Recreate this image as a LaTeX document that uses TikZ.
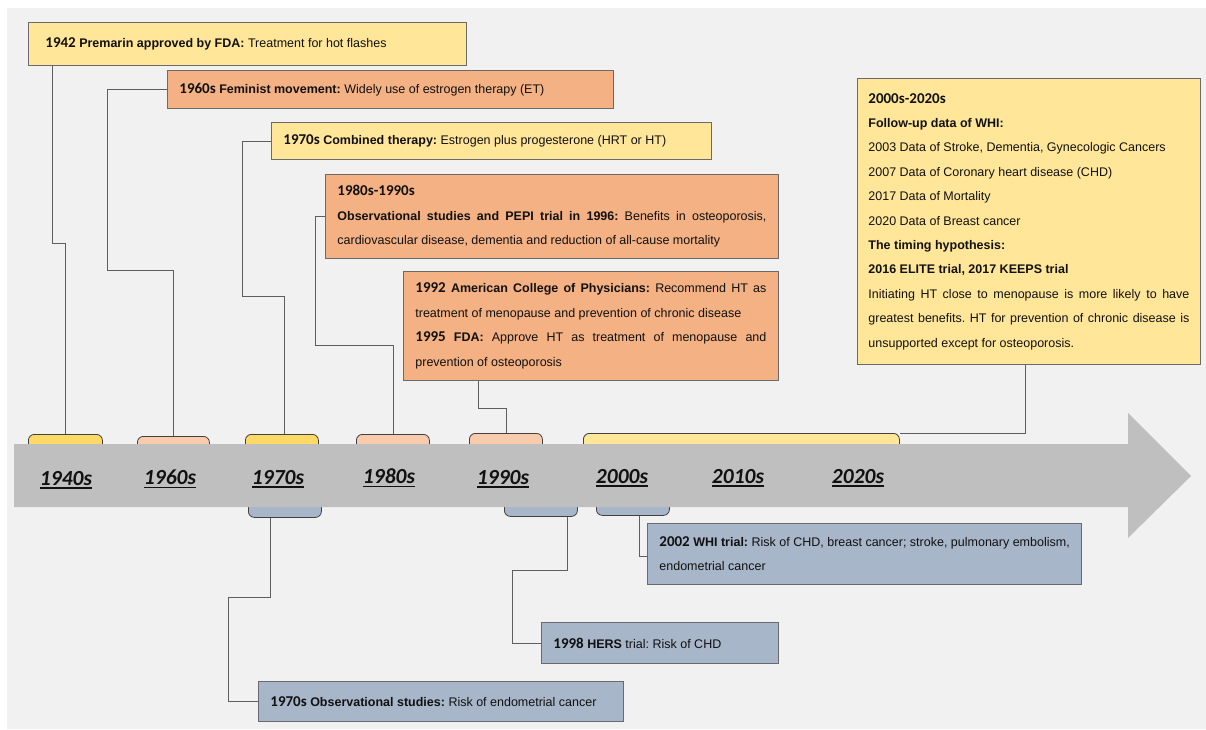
\documentclass[tikz,border=0pt]{standalone}
\usepackage{fontspec}
\setmainfont{Liberation Sans}
\newfontfamily\calib{Carlito}
\setlength\parindent{0pt}
\frenchspacing
\definecolor{bgcol}{HTML}{F1F1F1}
\definecolor{arrowgray}{HTML}{BFBFBF}
\definecolor{ylight}{HTML}{FFE699}
\definecolor{ydark}{HTML}{FFD966}
\definecolor{orbox}{HTML}{F4B183}
\definecolor{ortab}{HTML}{F8CBAD}
\definecolor{bluebox}{HTML}{A8B6C9}
\definecolor{boxline}{HTML}{6A6A6A}
\definecolor{tabline}{HTML}{404040}
\definecolor{connline}{HTML}{5E5E5E}
\definecolor{txt}{HTML}{111111}
\newcommand\yr[1]{{\calib\bfseries\fontsize{15}{24.4}\selectfont #1}}
\newcommand\decul[1]{\setbox0\hbox{#1}\rlap{\vrule height -2.2pt depth 3.9pt width \wd0}\box0}
\tikzset{
  box/.style={draw=boxline, line width=0.8pt, rectangle, inner xsep=12pt, inner ysep=0pt,
    align=justify, font=\fontsize{12.5}{24.4}\selectfont, text=txt, anchor=north west,
    execute at begin node={\lefthyphenmin=62 \righthyphenmin=62 \hyphenpenalty=10000 \frenchspacing}},
  tabbox/.style={draw=tabline, line width=0.8pt, rounded corners=6pt, inner sep=0pt, anchor=north west},
  conn/.style={draw=connline, line width=0.8pt},
  dec/.style={font=\calib\bfseries\itshape\fontsize{21.5}{21.5}\selectfont, text=txt, inner sep=0pt}
}
\begin{document}
\begin{tikzpicture}[x=1pt,y=-1pt]
\useasboundingbox (0,0) rectangle (1206,729);
\fill[white] (0,0) rectangle (1206,729);
\fill[bgcol] (7,8) rectangle (1206,729);

% tabs above
\node[tabbox, fill=ydark, minimum width=74pt, minimum height=30pt] (t1940) at (28,434) {};
\node[tabbox, fill=ortab, minimum width=72pt, minimum height=28pt] (t1960) at (137,436) {};
\node[tabbox, fill=ydark, minimum width=73pt, minimum height=30pt] (t1970) at (245,434) {};
\node[tabbox, fill=ortab, minimum width=73pt, minimum height=30pt] (t1980) at (356,434) {};
\node[tabbox, fill=ortab, minimum width=73pt, minimum height=30pt] (t1990) at (469,433) {};
\node[tabbox, fill=ylight, minimum width=316pt, minimum height=30pt] (t2000) at (583,433) {};
% tabs below
\node[tabbox, fill=bluebox, minimum width=73pt, minimum height=30pt] (tb1970) at (248,487) {};
\node[tabbox, fill=bluebox, minimum width=73pt, minimum height=29pt] (tb1990) at (504,487) {};
\node[tabbox, fill=bluebox, minimum width=73pt, minimum height=28pt] (tb2000) at (596,487) {};

% arrow
\fill[arrowgray] (14,444) -- (1128,444) -- (1128,413) -- (1191,476) -- (1128,538) -- (1128,507) -- (14,507) -- cycle;

% decade labels
\node[dec] (d1940) at (66,480) {\decul{1940s}};
\node[dec] (d1960) at (170,479) {\decul{1960s}};
\node[dec] (d1970) at (278,479) {\decul{1970s}};
\node[dec] (d1980) at (389,478) {\decul{1980s}};
\node[dec] (d1990) at (503,479) {\decul{1990s}};
\node[dec] (d2000) at (622,478) {\decul{2000s}};
\node[dec] (d2010) at (738,478) {\decul{2010s}};
\node[dec] (d2020) at (858,478) {\decul{2020s}};

% boxes above
\node[box, fill=ylight, inner xsep=17pt, text width=404pt, minimum width=438pt, minimum height=43pt] (b1942) at (28,22)
  {\mbox{\yr{1942} \textbf{Premarin approved by FDA:} Treatment for hot flashes}};
\node[box, fill=orbox, text width=422pt, minimum width=446pt, minimum height=38pt] (b1960) at (167,70)
  {\mbox{\yr{1960s} \textbf{Feminist movement:} Widely use of estrogen therapy (ET)}};
\node[box, fill=ylight, text width=416pt, minimum width=440pt, minimum height=37pt] (b1970) at (271,122)
  {\mbox{\yr{1970s} \textbf{Combined therapy:} Estrogen plus progesterone (HRT or HT)}};
\node[box, fill=orbox, text width=429pt, minimum width=453pt, minimum height=84pt] (b1980) at (325,174)
  {\yr{1980s-1990s}\\ \textbf{Observational studies and PEPI trial in 1996:} Benefits in osteoporosis, cardiovascular disease, dementia and reduction of all-cause mortality};
\node[box, fill=orbox, text width=351pt, minimum width=375pt, minimum height=109pt] (b1992) at (403,271)
  {\yr{1992} \textbf{American College of Physicians:} Recommend HT as treatment of menopause and prevention of chronic disease\\ \yr{1995} \textbf{FDA:} Approve HT as treatment of menopause and prevention of osteoporosis};
\node[box, fill=ylight, inner xsep=11pt, text width=321pt, minimum width=343pt, minimum height=286pt] (b2000) at (857,78)
  {\yr{2000s-2020s}\\
   \textbf{Follow-up data of WHI:}\\
   2003 Data of Stroke, Dementia, Gynecologic Cancers\\
   2007 Data of Coronary heart disease (CHD)\\
   2017 Data of Mortality\\
   2020 Data of Breast cancer\\
   \textbf{The timing hypothesis:}\\
   \textbf{2016 ELITE trial, 2017 KEEPS trial}\\
   Initiating HT close to menopause is more likely to have greatest benefits. HT for prevention of chronic disease is unsupported except for osteoporosis.};

% boxes below
\node[box, fill=bluebox, text width=410pt, minimum width=434pt, minimum height=61pt] (bwhi) at (647,523)
  {\mbox{\yr{2002} \textbf{WHI trial:} Risk of CHD, breast cancer; stroke, pulmonary embolism,}\\ endometrial cancer};
\node[box, fill=bluebox, text width=213pt, minimum width=237pt, minimum height=41pt] (bhers) at (541,622)
  {\mbox{\yr{1998} \textbf{HERS} trial: Risk of CHD}};
\node[box, fill=bluebox, text width=341pt, minimum width=365pt, minimum height=40pt] (bobs) at (258,681)
  {\mbox{\yr{1970s} \textbf{Observational studies:} Risk of endometrial cancer}};

% connectors
\draw[conn] ([xshift=24pt]b1942.south west) |- (t1940.north |- 0,243) -- (t1940.north);
\draw[conn] (b1960.west) -| (107,270) -| (t1960.north);
\draw[conn] (b1970.west) -| (242,296) -| ([xshift=2pt]t1970.north);
\draw[conn] (b1980.west) -| (315,345) -| (t1980.north);
\draw[conn] ([xshift=75pt]b1992.south west) |- (t1990.north |- 0,408) -- (t1990.north);
\draw[conn] ([xshift=-4pt]b2000.south) |- (t2000.north east);
\draw[conn] ([xshift=22pt]tb1970.south west) |- (228,597) |- (bobs.west);
\draw[conn] ([xshift=63pt]tb1990.south west) |- (512,570) |- (bhers.west);
\draw[conn] ([xshift=43pt]tb2000.south west) |- ([yshift=-2pt]bwhi.west);
\end{tikzpicture}
\end{document}
